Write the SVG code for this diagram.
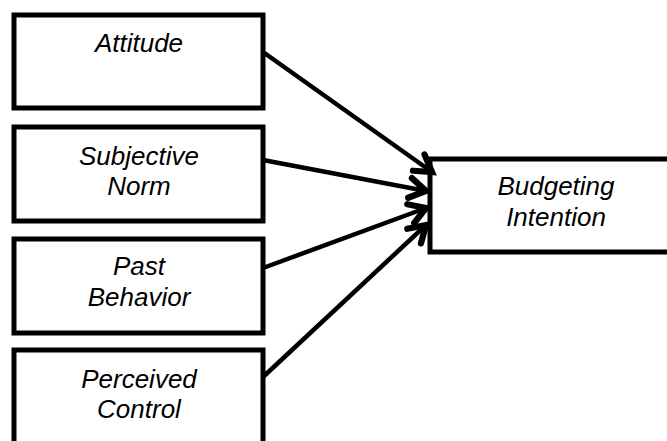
<svg xmlns="http://www.w3.org/2000/svg" width="667" height="441" viewBox="0 0 667 441">
  <style>
    .box { fill: #ffffff; stroke: #000000; stroke-width: 5; }
    .lbl { font-family: "Liberation Sans", Arial, sans-serif; font-style: italic; font-size: 26px; fill: #000000; text-anchor: middle; }
    .edge { stroke: #000000; stroke-width: 4.5; fill: none; marker-end: url(#arrow); }
  </style>
  <defs>
    <marker id="arrow" markerUnits="userSpaceOnUse" markerWidth="30" markerHeight="30" viewBox="-17 -12 21 24" refX="0" refY="0" orient="auto">
      <path d="M-13,-8 L0,0 L-13,8" fill="none" stroke="#000000" stroke-width="5" stroke-linecap="round" stroke-linejoin="miter"/>
    </marker>
  </defs>
  <rect width="667" height="441" fill="#ffffff"/>
  <g id="node-attitude">
    <rect class="box" x="14" y="15" width="249" height="93"/>
    <text class="lbl" x="139" y="52">Attitude</text>
  </g>
  <g id="node-subjective-norm">
    <rect class="box" x="14" y="127" width="249" height="94"/>
    <text class="lbl" x="139" y="165">Subjective</text>
    <text class="lbl" x="139" y="195">Norm</text>
  </g>
  <g id="node-past-behavior">
    <rect class="box" x="14" y="239" width="249" height="94"/>
    <text class="lbl" x="139" y="275">Past</text>
    <text class="lbl" x="139" y="306">Behavior</text>
  </g>
  <g id="node-perceived-control">
    <rect class="box" x="14" y="350" width="249" height="100"/>
    <text class="lbl" x="139" y="388">Perceived</text>
    <text class="lbl" x="139" y="418">Control</text>
  </g>
  <g id="node-budgeting-intention">
    <rect class="box" x="430" y="159" width="245" height="93"/>
    <text class="lbl" x="556" y="195">Budgeting</text>
    <text class="lbl" x="556" y="226">Intention</text>
  </g>
  <g id="connectors">
    <line class="edge" x1="263" y1="52" x2="432" y2="172"/>
    <line class="edge" x1="263" y1="160" x2="426" y2="191"/>
    <line class="edge" x1="263" y1="268" x2="426" y2="208"/>
    <line class="edge" x1="263" y1="377" x2="426" y2="225"/>
  </g>
</svg>
